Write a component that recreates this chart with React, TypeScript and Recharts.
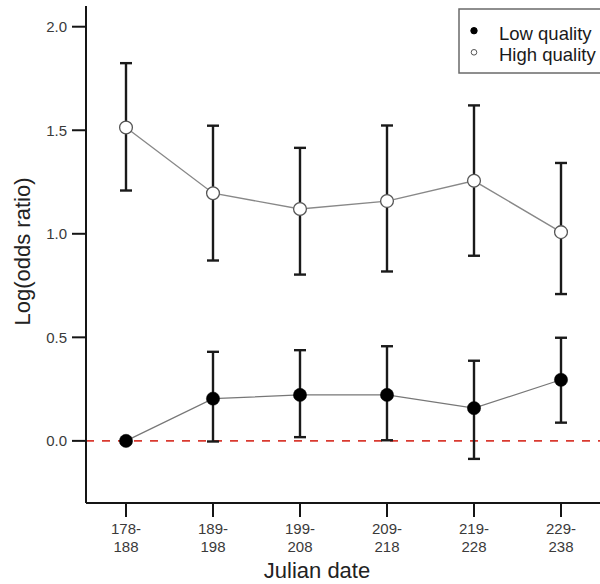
import React from 'react';
import { LineChart, Line, XAxis, YAxis, ErrorBar, ReferenceLine } from 'recharts';

const categories = ['178-188', '189-198', '199-208', '209-218', '219-228', '229-238'];
const lowMean = [0.0, 0.204, 0.222, 0.222, 0.158, 0.295];
const lowUpper = [0.0, 0.43, 0.438, 0.457, 0.387, 0.498];
const lowLower = [0.0, -0.003, 0.018, 0.003, -0.087, 0.088];
const highMean = [1.513, 1.196, 1.12, 1.158, 1.256, 1.008];
const highUpper = [1.824, 1.522, 1.415, 1.523, 1.62, 1.342];
const highLower = [1.209, 0.871, 0.803, 0.818, 0.894, 0.709];
const yTicks = [0, 0.5, 1, 1.5, 2];
const legendItems = [
  { label: 'Low quality', filled: true },
  { label: 'High quality', filled: false },
];

const data = categories.map((cat, i) => ({
  cat,
  low: lowMean[i],
  lowErr: [lowMean[i] - lowLower[i], lowUpper[i] - lowMean[i]],
  high: highMean[i],
  highErr: [highMean[i] - highLower[i], highUpper[i] - highMean[i]],
}));

const FONT = '"Liberation Sans", Arial, sans-serif';
const AXIS = '#151515';
const TICKTEXT = '#3a3a3a';

const XTick = (props: any) => {
  const { x, y, payload } = props;
  const parts = String(payload.value).split('-');
  return (
    <text x={x} y={y} textAnchor="middle" fontSize={15} fill={TICKTEXT} fontFamily={FONT}>
      <tspan x={x} dy={15}>{parts[0] + '-'}</tspan>
      <tspan x={x} dy={18}>{parts[1]}</tspan>
    </text>
  );
};

const YLabel = (props: any) => {
  const vb = props.viewBox || { x: 0, y: 0, width: 86, height: 497 };
  const cx = vb.x + 22;
  const cy = vb.y + vb.height / 2 - 3;
  return (
    <text
      x={cx}
      y={cy}
      transform={`rotate(-90 ${cx} ${cy})`}
      textAnchor="middle"
      dominantBaseline="central"
      fontSize={22}
      fill="#222"
      fontFamily={FONT}
    >
      Log(odds ratio)
    </text>
  );
};

const XLabel = (props: any) => {
  const vb = props.viewBox || { x: 86, y: 503, width: 514, height: 81 };
  return (
    <text x={vb.x + 231} y={vb.y + 75} textAnchor="middle" fontSize={22} fill="#222" fontFamily={FONT}>
      Julian date
    </text>
  );
};

const LowDot = (props: any) => {
  const { cx, cy } = props;
  if (cx == null || cy == null) return null;
  return <circle cx={cx} cy={cy} r={6.6} fill="#000" stroke="#000" strokeWidth={0.5} />;
};

const HighDot = (props: any) => {
  const { cx, cy } = props;
  if (cx == null || cy == null) return null;
  return <circle cx={cx} cy={cy} r={6.4} fill="#fff" stroke="#555" strokeWidth={1.3} />;
};

export default function App() {
  return (
    <div style={{ position: 'absolute', left: 0, top: 0, width: 600, height: 584, background: '#fff' }}>
      <LineChart
        width={600}
        height={584}
        data={data}
        margin={{ top: 6, right: 0, bottom: 0, left: 0 }}
        style={{ fontFamily: FONT }}
      >
        <XAxis
          dataKey="cat"
          interval={0}
          padding={{ left: 40, right: 39 }}
          tickSize={14}
          tickMargin={2}
          tick={<XTick />}
          axisLine={{ stroke: AXIS, strokeWidth: 2 }}
          tickLine={{ stroke: AXIS, strokeWidth: 2 }}
          label={<XLabel />}
          height={81}
        />
        <YAxis
          width={86}
          domain={[-0.3, 2.1]}
          ticks={yTicks}
          allowDataOverflow
          tickFormatter={(v: number) => v.toFixed(1)}
          tickSize={14}
          tickMargin={5}
          tick={{ fontSize: 15, fill: TICKTEXT, fontFamily: FONT }}
          axisLine={{ stroke: AXIS, strokeWidth: 2 }}
          tickLine={{ stroke: AXIS, strokeWidth: 2 }}
          label={<YLabel />}
        />
        <ReferenceLine y={0} stroke="#d93a30" strokeWidth={1.6} strokeDasharray="8 8" />
        <Line
          dataKey="high"
          stroke="#888"
          strokeWidth={1.4}
          dot={<HighDot />}
          activeDot={false}
          isAnimationActive={false}
        >
          <ErrorBar dataKey="highErr" width={6} stroke="#1a1a1a" strokeWidth={2.4} direction="y" />
        </Line>
        <Line
          dataKey="low"
          stroke="#777"
          strokeWidth={1.2}
          dot={<LowDot />}
          activeDot={false}
          isAnimationActive={false}
        >
          <ErrorBar dataKey="lowErr" width={6} stroke="#1a1a1a" strokeWidth={2.4} direction="y" />
        </Line>
      </LineChart>
      <svg
        width={600}
        height={584}
        style={{ position: 'absolute', left: 0, top: 0, pointerEvents: 'none' }}
      >
        <rect x={459} y={9} width={150} height={64} fill="#fff" stroke="#6a6a6a" strokeWidth={1.5} />
        {legendItems.map((item, i) => (
          <g key={item.label}>
            <circle
              cx={474}
              cy={30.7 + i * 21.6}
              r={item.filled ? 3.2 : 2.8}
              fill={item.filled ? '#000' : '#fff'}
              stroke={item.filled ? '#000' : '#555'}
              strokeWidth={1}
            />
            <text x={499} y={39.5 + i * 21.2} fontSize={18.5} fill="#1a1a1a" fontFamily={FONT}>
              {item.label}
            </text>
          </g>
        ))}
      </svg>
    </div>
  );
}
